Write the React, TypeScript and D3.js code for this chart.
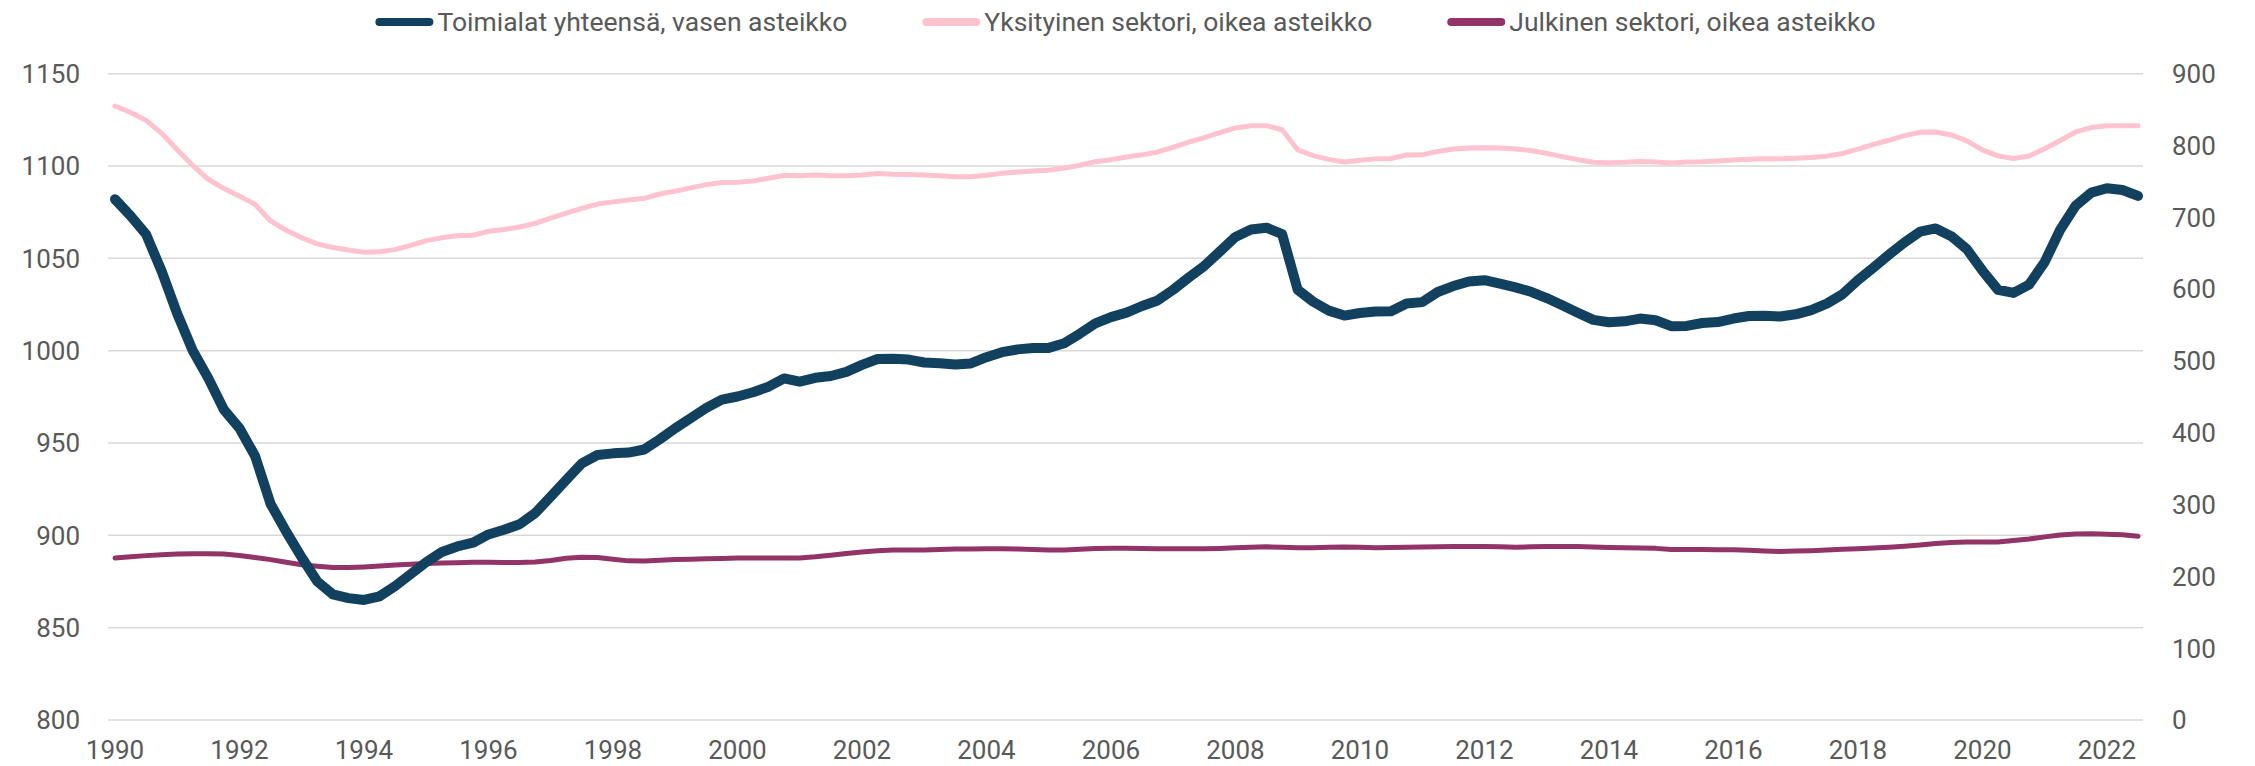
import * as d3 from "d3";
import React, { useEffect, useRef } from "react";

// Neljännesvuosisarjat 1990Q1 - 2022Q3
const startYear = 1990;

const toimialat = [
  1082, 1073, 1063, 1043, 1020, 1000, 985, 968, 958, 943, 917, 902, 888, 875, 868, 866,
  865, 867, 872.5, 879, 885.5, 891, 894, 896, 900.5, 903, 906, 912, 921, 930, 939, 943.5,
  944.4, 944.8, 946.5, 952, 958, 963.5, 969, 973.5, 975.2, 977.5, 980.5, 985, 983.2, 985.3, 986.3, 988.5,
  992.3, 995.5, 995.6, 995.2, 993.6, 993.2, 992.5, 993.1, 996.5, 999.2, 1000.7, 1001.5,
  1001.5, 1004, 1009.2, 1014.8, 1018.2, 1020.6, 1024.2, 1027.2, 1033, 1039.6, 1045.9, 1053.7,
  1061.6, 1065.6, 1066.6, 1063.1, 1033, 1026.5, 1021.7, 1019, 1020.4, 1021.2, 1021.4, 1025.6,
  1026.3, 1031.8, 1035, 1037.5, 1038.2, 1036.3, 1034.3, 1031.9, 1028.5, 1024.6, 1020.6, 1016.7,
  1015.4, 1015.9, 1017.4, 1016.5, 1013.3, 1013.4, 1015, 1015.5, 1017.4, 1018.8, 1018.9, 1018.5,
  1019.7, 1022, 1025.5, 1030.5, 1038.2, 1045, 1052, 1058.7, 1064.5, 1066.2, 1062, 1055,
  1043.4, 1033, 1031.3, 1035.8, 1048, 1065.5, 1078.6, 1085.6, 1088, 1087, 1083.8,
];

const yksityinen = [
  855, 846, 835, 817, 794, 772, 753, 740, 729.5, 718, 695, 682, 671.5, 663, 658, 654.5,
  651.5, 652, 655, 661, 667.5, 671.5, 674.5, 675, 680.5, 683, 686.5, 691.5, 699, 706, 712.5, 718.5,
  721.5, 724, 726.5, 732.5, 736.5, 741, 745.5, 748.5, 749, 750.5, 754.5, 758.5, 758, 759, 758, 758,
  759, 761, 760, 759.5, 759, 758, 756.5, 756.5, 758.5, 761.5, 763, 764.5,
  765.7, 768.5, 772.5, 777.5, 780.3, 784, 787, 791, 797.6, 804.6, 811, 818,
  824.5, 827.6, 827.6, 822, 794, 786, 780.7, 777, 779.4, 781.4, 782, 786.8,
  787, 791.8, 795.2, 796.5, 797, 796.5, 795.2, 793, 789, 784.5, 780.3, 776.8,
  775.9, 776.6, 777.8, 777, 775.8, 777, 777.3, 778.4, 779.8, 780.8, 781.4, 781.5,
  782.2, 783.3, 785.2, 788.9, 795, 801.5, 807.3, 813.7, 818.5, 818.8, 814.7, 806.5,
  794, 785.6, 782, 785.5, 795.5, 807, 819, 825, 827.6, 827.6, 827.6,
];

const julkinen = [
  225.7, 227.3, 228.9, 230, 231, 231.5, 231.5, 231.2, 229.2, 226.2, 223.3, 219.7, 216.3, 214.2, 212.5, 212.3,
  213.2, 214.4, 215.8, 216.9, 218, 218.6, 219.1, 219.7, 219.8, 219.4, 219.3, 220, 222, 225.3, 226.8, 226.4,
  223.8, 221.6, 221.4, 222.3, 223.5, 224, 224.5, 225, 225.6, 225.7, 225.7, 225.7, 225.7, 227.2, 229.3, 231.8,
  234, 235.7, 236.8, 236.9, 236.9, 237.4, 238, 238.2, 238.5, 238.3, 238, 237.4,
  236.9, 236.9, 237.9, 238.9, 239, 239, 238.8, 238.5, 238.5, 238.5, 238.5, 238.9,
  239.7, 240.5, 241.1, 240.6, 240, 240, 240.5, 241, 240.5, 240, 240.3, 240.6,
  240.9, 241.2, 241.6, 241.7, 241.7, 241.2, 240.7, 241.2, 241.7, 241.7, 241.7, 240.9,
  240.1, 239.7, 239.4, 239, 237.5, 237.4, 237.3, 237.1, 237, 236.3, 235.5, 234.8,
  235.2, 235.7, 236.6, 237.7, 238.6, 239.4, 240.4, 241.8, 243.6, 245.7, 247.1, 248,
  248, 248, 249.8, 252, 255, 257.5, 258.9, 259.3, 258.7, 257.9, 256,
];

const leftTicks = [800, 850, 900, 950, 1000, 1050, 1100, 1150];
const rightTicks = [0, 100, 200, 300, 400, 500, 600, 700, 800, 900];
const yearTicks = d3.range(1990, 2023, 2);

const series = [
  { name: "Toimialat yhteensä, vasen asteikko", values: toimialat, axis: "left", color: "#12415f", width: 10 },
  { name: "Yksityinen sektori, oikea asteikko", values: yksityinen, axis: "right", color: "#ffc2cf", width: 5 },
  { name: "Julkinen sektori, oikea asteikko", values: julkinen, axis: "right", color: "#923467", width: 5 },
];

const W = 2255;
const H = 766;
const FONT = "Roboto, 'Liberation Sans', sans-serif";
const TEXT = "#595959";

export default function App() {
  const ref = useRef<SVGSVGElement>(null);

  useEffect(() => {
    const svg = d3.select(ref.current);
    svg.selectAll("*").remove();

    // Piirtoalue
    const plot = { left: 108, right: 2143, top: 73.7, bottom: 720 };

    const x = d3.scaleLinear([startYear, startYear + 32.5], [115, 2138]);
    const yLeft = d3.scaleLinear([800, 1150], [plot.bottom, plot.top]);
    const yRight = d3.scaleLinear([0, 900], [plot.bottom, plot.top]);

    // Vaakaviivat
    svg
      .append("g")
      .selectAll("line")
      .data(leftTicks)
      .join("line")
      .attr("x1", plot.left)
      .attr("x2", plot.right)
      .attr("y1", (d) => yLeft(d))
      .attr("y2", (d) => yLeft(d))
      .attr("stroke", "#d9d9d9")
      .attr("stroke-width", 1.5);

    const labels = svg.append("g").attr("font-family", FONT).attr("font-size", 26).attr("fill", TEXT);

    labels
      .append("g")
      .attr("text-anchor", "end")
      .selectAll("text")
      .data(leftTicks)
      .join("text")
      .attr("x", 80)
      .attr("y", (d) => yLeft(d))
      .attr("dy", "0.36em")
      .text((d) => d);

    labels
      .append("g")
      .attr("text-anchor", "start")
      .selectAll("text")
      .data(rightTicks)
      .join("text")
      .attr("x", 2172)
      .attr("y", (d) => yRight(d))
      .attr("dy", "0.36em")
      .text((d) => d);

    labels
      .append("g")
      .attr("text-anchor", "middle")
      .selectAll("text")
      .data(yearTicks)
      .join("text")
      .attr("x", (d) => x(d))
      .attr("y", 759)
      .text((d) => d);

    // Viivat (julkinen alimmaisena, toimialat päällimmäisenä)
    const lines = svg.append("g").attr("fill", "none").attr("stroke-linecap", "round").attr("stroke-linejoin", "round");
    [series[2], series[1], series[0]].forEach((s) => {
      const yScale = s.axis === "left" ? yLeft : yRight;
      const line = d3
        .line<number>()
        .x((_, i) => x(startYear + i / 4))
        .y((d) => yScale(d));
      lines
        .append("path")
        .attr("d", line(s.values))
        .attr("stroke", s.color)
        .attr("stroke-width", s.width);
    });

    // Selite
    const legend = svg.append("g").attr("font-family", FONT).attr("font-size", 26.5).attr("fill", TEXT);
    const swatch = 58;
    const gap = 4;
    const itemGap = 75;
    const items = series.map((s) => {
      const g = legend.append("g");
      g.append("line")
        .attr("x1", 4)
        .attr("x2", swatch - 4)
        .attr("y1", 0)
        .attr("y2", 0)
        .attr("stroke", s.color)
        .attr("stroke-width", 8)
        .attr("stroke-linecap", "round");
      const t = g
        .append("text")
        .attr("x", swatch + gap)
        .attr("y", 0)
        .attr("dy", "0.35em")
        .text(s.name);
      const w = (t.node() as SVGTextElement).getComputedTextLength();
      return { g, w: swatch + gap + w };
    });
    const total = d3.sum(items, (d) => d.w) + itemGap * (items.length - 1);
    let cx = (plot.left + plot.right) / 2 - total / 2;
    items.forEach((it) => {
      it.g.attr("transform", `translate(${cx},22)`);
      cx += it.w + itemGap;
    });
  }, []);

  return (
    <svg
      ref={ref}
      width={W}
      height={H}
      viewBox={`0 0 ${W} ${H}`}
      style={{ position: "absolute", left: 0, top: 0, background: "#fff" }}
    ></svg>
  );
}
